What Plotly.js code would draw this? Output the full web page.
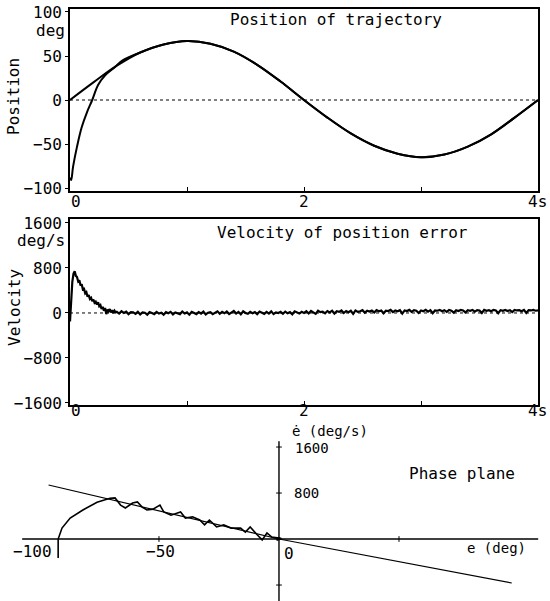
<!DOCTYPE html>
<html>
<head>
<meta charset="utf-8">
<script src="https://cdn.plot.ly/plotly-3.0.1.min.js"></script>
<style>html,body{margin:0;padding:0;background:#fff;}#chart{width:550px;height:601px;}</style>
</head>
<body>
<div id="chart"></div>
<script>
// ---------- DATA ----------
// Position panel (deg vs s)
const posTime = [0,0.2,0.4,0.6,0.8,1.0,1.2,1.4,1.6,1.8,2.0,2.2,2.4,2.6,2.8,3.0,3.2,3.4,3.6,3.8,4.0];
const posDesired = [0,20,39,54,63,67,64,55,40,21,0,-20,-38,-52,-61,-65,-62,-53,-39,-20,0];
const actEarlyTime = [0,0.01,0.026,0.06,0.10,0.145,0.19,0.24,0.30,0.385,0.45];
const actEarlyPos = [-88,-91,-76,-53,-31,-14,0,17,28,37.5,45];

// Velocity of position error (deg/s)
const velEarlyStart = 0, velEarlyStep = 0.01;
const velEarly = [-150,250,560,700,740,660,640,560,580,490,510,420,430,350,370,290,320,250,270,210,
                  240,180,200,150,190,120,140,70,110,40,90,-20,60,30,70,10,50,0,40,10];
const velLateStart = 0.40, velLateStep = 0.02;
const velLate = [20,-10,30,0,25,-20,15,10,-15,20,
                 -25,10,5,-30,15,0,-20,20,-10,5,
                 -30,15,-5,20,-25,10,0,-20,25,-10,
                 10,-30,20,-5,-20,15,-10,25,-25,5,
                 15,-20,10,30,-15,20,-5,25,-20,10,
                 35,-10,20,-25,30,0,-15,20,-5,15,
                 -20,25,5,-15,20,-10,30,-20,10,0,
                 20,-15,25,-5,15,-25,30,5,-10,20,
                 0,30,-10,35,10,-15,40,15,25,-5,
                 35,10,40,-10,30,20,45,0,35,15,
                 40,-15,45,20,30,50,5,40,25,45,
                 10,50,30,45,-5,40,35,55,15,45,
                 30,50,-10,45,35,55,20,50,40,0,
                 45,30,55,25,50,-5,45,40,55,30,
                 50,20,55,40,5,50,35,55,45,10,
                 50,40,55,25,50,45,0,55,40,50,
                 30,55,45,-5,50,40,55,35,50,15,
                 55,45,50,30,55,0,50,45,55,40,
                 45];

// Phase plane
const phaseE = [-92,-92,-90.4,-87,-81.7,-75.8,-70.4,-68.3,-66,-64,-61,-59,-57,-55,-52.5,-49.6,-48,-45,-41,-39,
                -36,-33,-31,-29,-26,-23,-20,-16,-14,-12,-9,-7,-5,-3,0,-1,1,-0.5,0.5];
const phaseEdot = [-330,0,190,365,505,640,710,715,590,540,625,645,555,505,520,590,470,415,470,365,
                   385,330,245,330,210,245,190,190,120,210,70,-15,105,35,15,-20,10,25,-10];
const slideE = [-96,0,97];
const slideEdot = [940,0,-765];

const timeTicks = [0,1,2,3,4];
const timeTickLabels = ['0','2','4s'];
const timeTickLabelVals = [0,2,4];
const posTicks = [-100,-50,0,50,100];
const posTickText = ['\u2212100','\u221250','0','50','100'];
const velTicks = [-1600,-800,0,800,1600];
const velTickText = ['\u22121600','\u2212800','0','800','1600'];
const phaseXTicks = [-50,50];
const phaseYTicks = [1600,800,-800];

// ---------- BUILD ----------
const velEarlyTime = velEarly.map((v,i)=>velEarlyStart + i*velEarlyStep);
const velLateTime = velLate.map((v,i)=>velLateStart + i*velLateStep);
const actTime = actEarlyTime.concat(posTime.slice(3));
const actPos = actEarlyPos.concat(posDesired.slice(3));

const W = 550, H = 601;
const px = x => x / W;
const py = y => 1 - y / H;
const FONT = {family: 'DejaVu Sans Mono, Liberation Mono, monospace', size: 16, color: '#000'};
const FONT_S = {family: 'DejaVu Sans Mono, Liberation Mono, monospace', size: 14, color: '#000'};

const traces = [
  {x: posTime, y: posDesired, xaxis:'x', yaxis:'y', mode:'lines', line:{color:'#000', width:2, shape:'spline'}, hoverinfo:'skip'},
  {x: actTime, y: actPos, xaxis:'x', yaxis:'y', mode:'lines', line:{color:'#000', width:2, shape:'spline'}, hoverinfo:'skip'},
  {x: velEarlyTime.concat(velLateTime), y: velEarly.concat(velLate), xaxis:'x2', yaxis:'y2', mode:'lines', line:{color:'#000', width:2.2}, hoverinfo:'skip'},
  {x: slideE, y: slideEdot, xaxis:'x3', yaxis:'y3', mode:'lines', line:{color:'#000', width:1.2}, hoverinfo:'skip'},
  {x: phaseE, y: phaseEdot, xaxis:'x3', yaxis:'y3', mode:'lines', line:{color:'#000', width:1.6}, hoverinfo:'skip'}
];

function timeAxis(anchor, dom) {
  return {domain: dom, anchor: anchor, range: [0,4], tickvals: timeTicks, showticklabels: false,
          ticks: 'inside', ticklen: 4, tickwidth: 1, tickcolor: '#000',
          showline: true, linecolor: '#000', linewidth: 1.8, mirror: true,
          showgrid: false, zeroline: false, fixedrange: true};
}
function valAxis(anchor, dom, range, tv, tt) {
  return {domain: dom, anchor: anchor, range: range, tickvals: tv, ticktext: tt,
          ticks: 'outside', ticklen: 3, tickwidth: 1, tickcolor: '#000', tickfont: FONT,
          showline: true, linecolor: '#000', linewidth: 1.8, mirror: true,
          showgrid: false, zeroline: false, fixedrange: true};
}

const xDom = [px(70), px(538)];
const layout = {
  width: W, height: H, margin: {l:0, r:0, t:0, b:0},
  paper_bgcolor: '#fff', plot_bgcolor: 'rgba(0,0,0,0)', showlegend: false, font: FONT,
  xaxis: timeAxis('y', xDom),
  yaxis: valAxis('x', [py(191), py(9)], [-103.4, 103.4], posTicks, posTickText),
  xaxis2: timeAxis('y2', xDom),
  yaxis2: valAxis('x2', [py(405), py(219)], [-1636, 1671], velTicks, velTickText),
  xaxis3: {domain: [px(20), px(540)], anchor: 'y3', range: [-107.9, 108.75], visible: false, fixedrange: true},
  yaxis3: {domain: [0, py(425)], anchor: 'x3', range: [-1078, 1983], visible: false, fixedrange: true},
  shapes: [],
  annotations: []
};

// dashed zero lines
layout.shapes.push({type:'line', xref:'x', yref:'y', x0:0, x1:4, y0:0, y1:0, line:{color:'#000', width:1, dash:'3px,3px'}});
layout.shapes.push({type:'line', xref:'x2', yref:'y2', x0:0, x1:4, y0:0, y1:0, line:{color:'#000', width:1, dash:'3px,3px'}});
// phase plane axes
layout.shapes.push({type:'line', xref:'x3', yref:'y3', x0:-107, x1:108, y0:0, y1:0, line:{color:'#000', width:1.4}});
layout.shapes.push({type:'line', xref:'x3', yref:'y3', x0:0, x1:0, y0:1700, y1:-1078, line:{color:'#000', width:1.4}});
phaseXTicks.forEach(v => layout.shapes.push({type:'line', xref:'x3', yref:'y3', x0:v, x1:v, y0:-50, y1:50, line:{color:'#000', width:1}}));
phaseYTicks.forEach(v => layout.shapes.push({type:'line', xref:'x3', yref:'y3', x0:-1.2, x1:1.2, y0:v, y1:v, line:{color:'#000', width:1}}));

function ann(text, x, y, xanchor, extra, font) {
  return Object.assign({text: text, xref:'paper', yref:'paper', x: px(x), y: py(y), xanchor: xanchor || 'center', yanchor:'middle', showarrow:false, font: font || FONT}, extra || {});
}
// x tick labels for time panels
[[202,'x'],[411,'x2']].forEach(([yy, ax]) => {
  timeTickLabelVals.forEach((v,i) => {
    const a = {text: timeTickLabels[i], xref: ax, yref:'paper', x: v, y: py(yy), yanchor:'middle', showarrow:false, font: FONT};
    if (i === 0) { a.xanchor = 'left'; a.xshift = -1; }
    else if (i === timeTickLabels.length - 1) { a.xanchor = 'right'; a.xshift = 11; }
    else a.xanchor = 'center';
    layout.annotations.push(a);
  });
});
layout.annotations.push(ann('deg', 67, 31, 'right'));
layout.annotations.push(ann('deg/s', 67, 240, 'right'));
layout.annotations.push(ann('Position', 14, 97, 'center', {textangle: -90}));
layout.annotations.push(ann('Velocity', 14, 308, 'center', {textangle: -90}));
layout.annotations.push(ann('Position of trajectory', 228, 20, 'left'));
layout.annotations.push(ann('Velocity of position error', 215, 232, 'left'));
layout.annotations.push(ann('Phase plane', 407, 473, 'left'));
layout.annotations.push(ann('e (deg)', 528, 548, 'right', null, FONT_S));
layout.annotations.push(ann('\u0117 (deg/s)', 290, 430.5, 'left', null, FONT_S));
layout.annotations.push(ann('1600', 293, 448, 'left', null, FONT_S));
layout.annotations.push(ann('800', 292, 493, 'left', null, FONT_S));
layout.annotations.push(ann('\u2212100', 32, 551, 'center'));
layout.annotations.push(ann('\u221250', 160, 551, 'center'));
layout.annotations.push(ann('0', 289, 553, 'center'));

Plotly.newPlot('chart', traces, layout, {staticPlot: true, displayModeBar: false});
</script>
</body>
</html>
